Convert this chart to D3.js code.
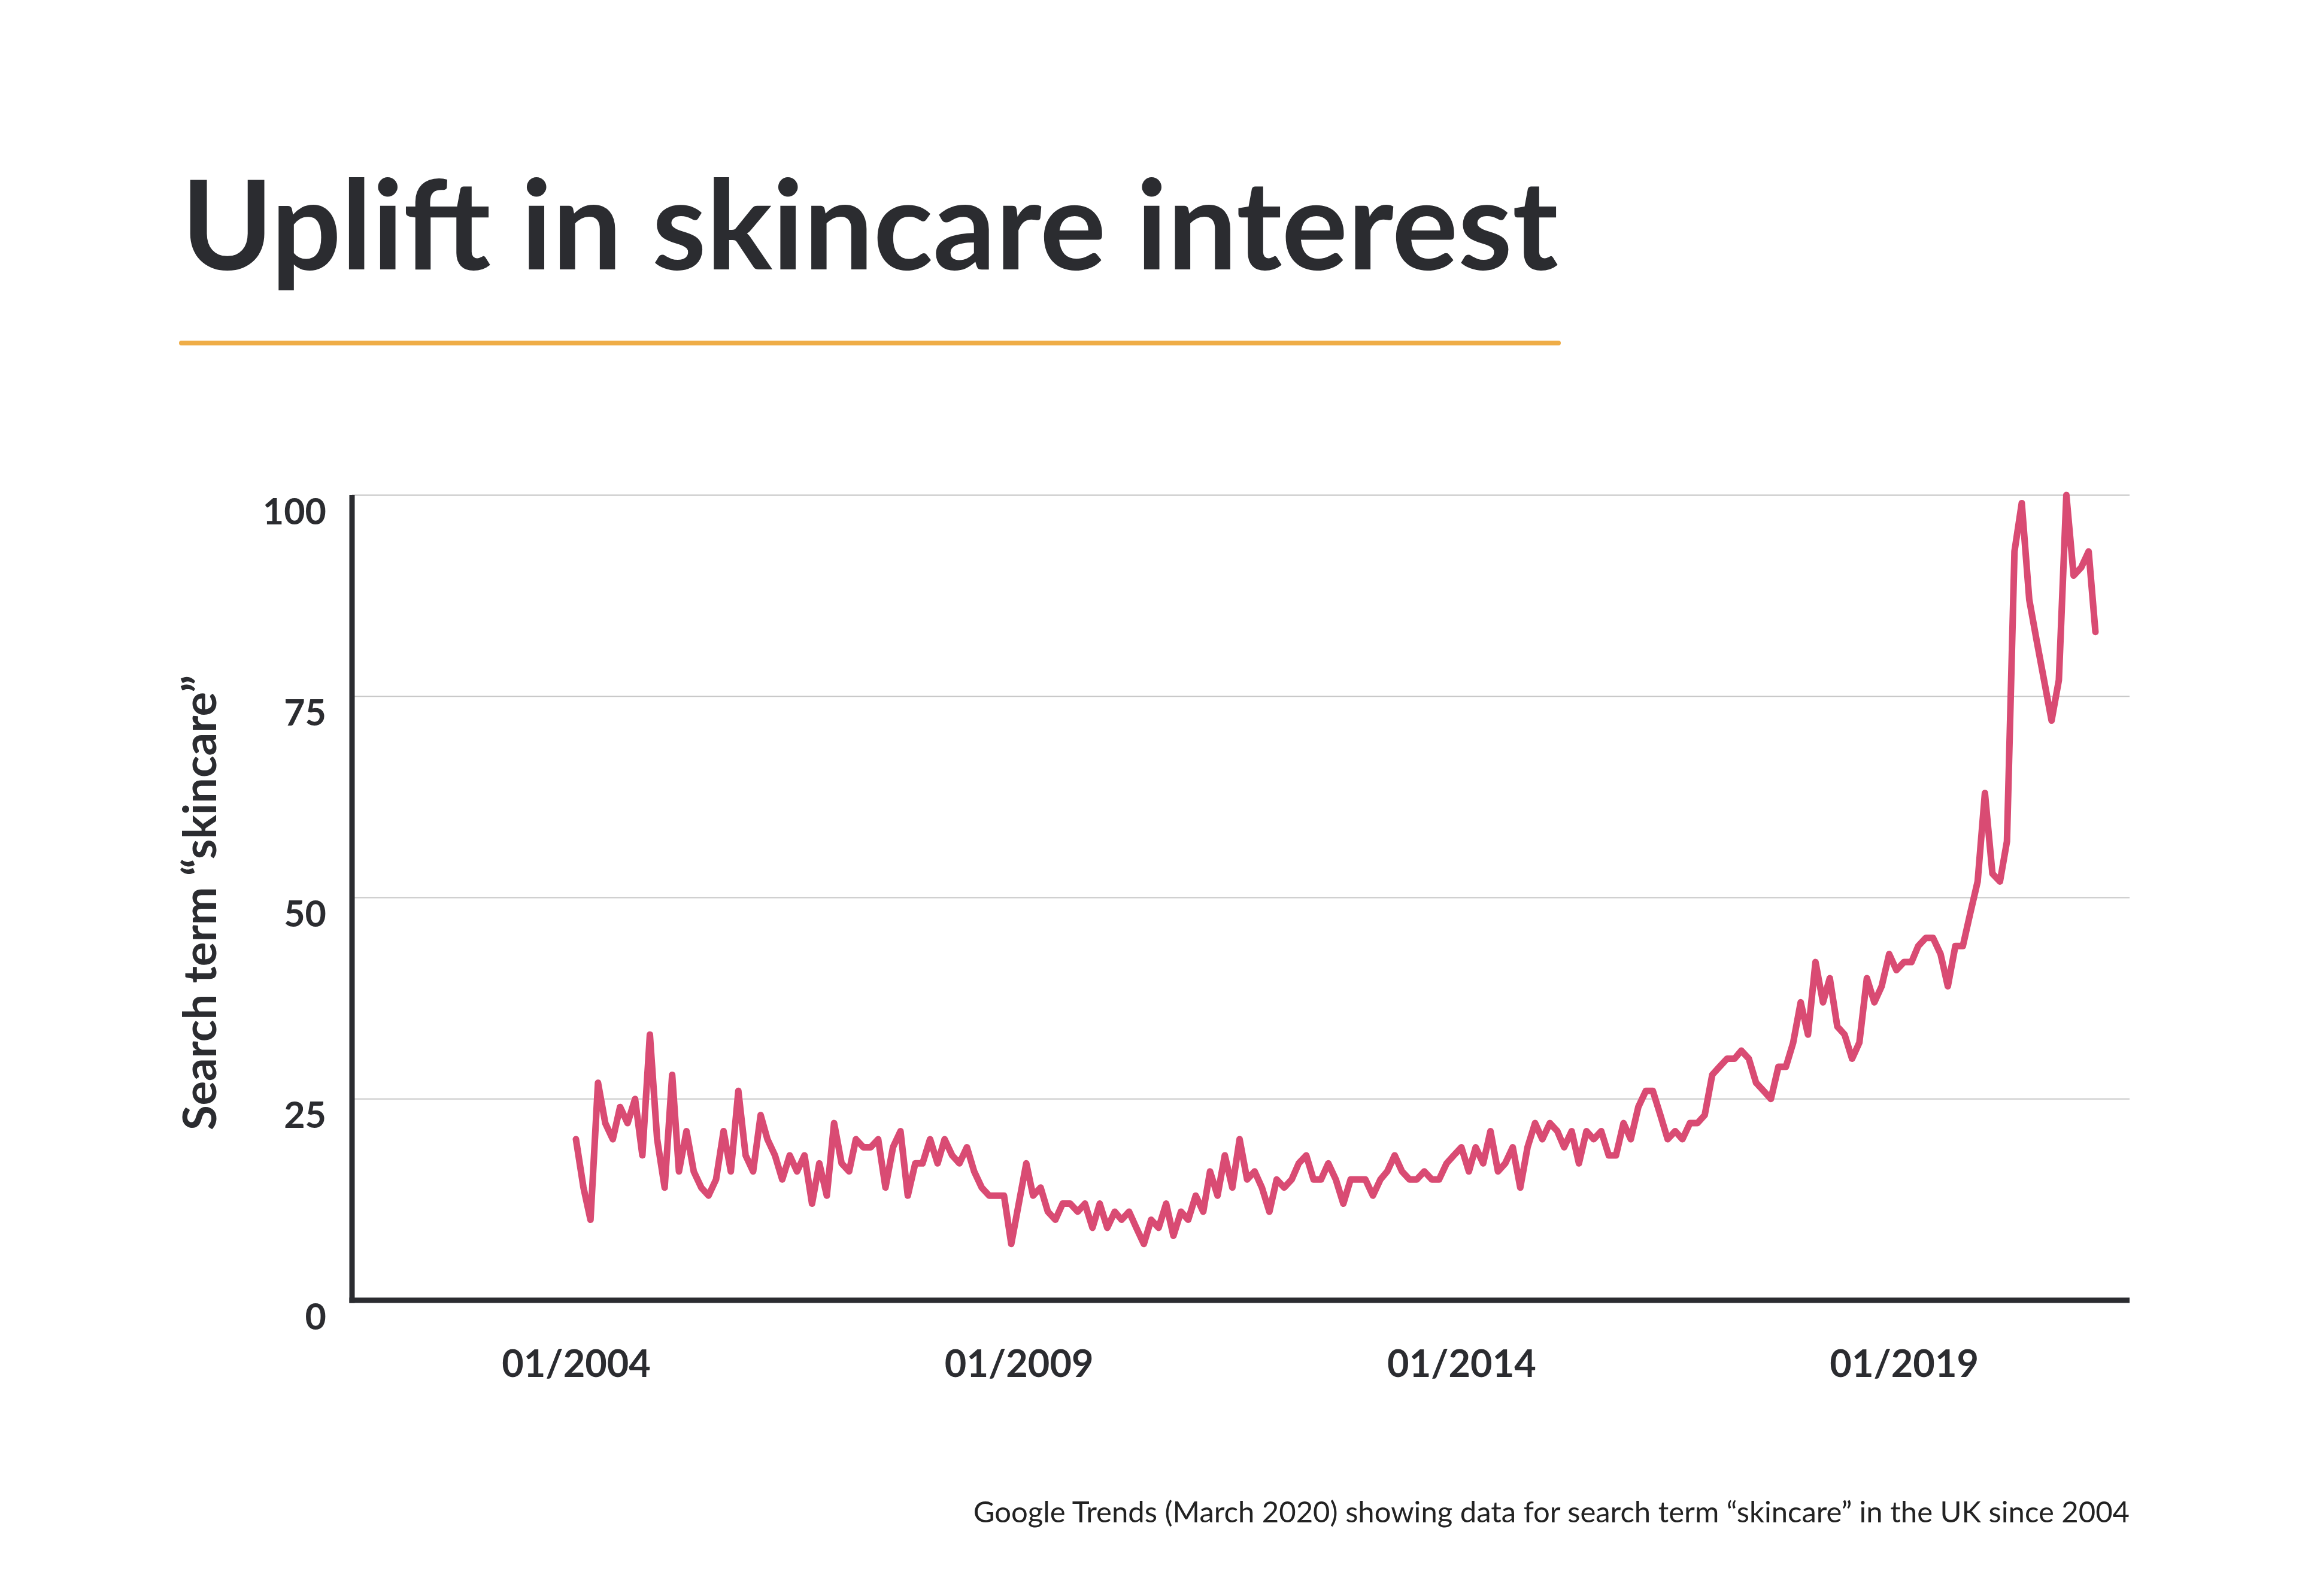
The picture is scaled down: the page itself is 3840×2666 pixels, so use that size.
<!DOCTYPE html>
<html>
<head>
<meta charset="utf-8">
<script src="https://cdn.jsdelivr.net/npm/d3@7"></script>
<style>
	body { margin: 0; background: #fff; }
	svg text { font-family: Lato, "Open Sans", sans-serif; }
</style>
</head>
<body>
<div id="chart"></div>
<script>
(function () {
	'use strict';

	// monthly Google Trends index for "skincare", UK, starting 01/2004
	var startMonth = "2004-01";
	var interest = [
		20, 14, 10, 27, 22, 20, 24, 22, 25, 18, 33, 20, 14, 28, 16, 21, 16, 14, 13, 15,
		21, 16, 26, 18, 16, 23, 20, 18, 15, 18, 16, 18, 12, 17, 13, 22, 17, 16, 20, 19,
		19, 20, 14, 19, 21, 13, 17, 17, 20, 17, 20, 18, 17, 19, 16, 14, 13, 13, 13, 7,
		12, 17, 13, 14, 11, 10, 12, 12, 11, 12, 9, 12, 9, 11, 10, 11, 9, 7, 10, 9,
		12, 8, 11, 10, 13, 11, 16, 13, 18, 14, 20, 15, 16, 14, 11, 15, 14, 15, 17, 18,
		15, 15, 17, 15, 12, 15, 15, 15, 13, 15, 16, 18, 16, 15, 15, 16, 15, 15, 17, 18,
		19, 16, 19, 17, 21, 16, 17, 19, 14, 19, 22, 20, 22, 21, 19, 21, 17, 21, 20, 21,
		18, 18, 22, 20, 24, 26, 26, 23, 20, 21, 20, 22, 22, 23, 28, 29, 30, 30, 31, 30,
		27, 26, 25, 29, 29, 32, 37, 33, 42, 37, 40, 34, 33, 30, 32, 40, 37, 39, 43, 41,
		42, 42, 44, 45, 45, 43, 39, 44, 44, 48, 52, 63, 53, 52, 57, 93, 99, 87, 82, 77,
		72, 77, 100, 90, 91, 93, 83
	];
	var yTicks = [0, 25, 50, 75, 100];
	var gridTicks = [25, 50, 75, 100];
	var xTickMonths = ["2004-01", "2009-01", "2014-01", "2019-01"];

	var titleText = "Uplift in skincare interest";
	var yTitle = "Search term \u201cskincare\u201d";
	var caption = "Google Trends (March 2020) showing data for search term \u201cskincare\u201d in the UK since 2004";

	var width = 3840, height = 2666;
	var ink = "#2b2c30";
	var plotLeft = 588, plotRight = 3557;

	var parseMonth = d3.timeParse("%Y-%m");
	var start = parseMonth(startMonth);
	var data = interest.map(function (v, i) {
		return { date: d3.timeMonth.offset(start, i), value: v };
	});

	var svg = d3.select("#chart")
		.append("svg")
		.attr("width", width)
		.attr("height", height);

	var x = d3.scaleTime()
		.domain(d3.extent(data, function (d) { return d.date; }))
		.range([962, 3500]);
	var y = d3.scaleLinear()
		.domain([0, 100])
		.range([2172, 827]);

	// title + underline, title sized to span the same width as the rule
	var title = svg.append("text")
		.attr("x", 303)
		.attr("y", 450)
		.attr("fill", ink)
		.style("font-size", "200px")
		.style("font-weight", 700)
		.text(titleText);
	var tw = title.node().getComputedTextLength();
	if (tw > 0) title.style("font-size", (200 * 2300 / tw) + "px");

	svg.append("line")
		.attr("x1", 303).attr("x2", 2603)
		.attr("y1", 573).attr("y2", 573)
		.attr("stroke", "#efad47")
		.attr("stroke-width", 8)
		.attr("stroke-linecap", "round");

	// gridlines
	svg.append("g")
		.selectAll("line")
		.data(gridTicks)
		.enter()
		.append("line")
		.attr("x1", plotLeft).attr("x2", plotRight)
		.attr("y1", y).attr("y2", y)
		.attr("stroke", "#c8c8c8")
		.attr("stroke-width", 2);

	// y axis labels
	var yAxis = svg.append("g")
		.attr("transform", "translate(" + plotLeft + ",0)")
		.call(d3.axisLeft(y).tickValues(yTicks).tickSize(0).tickPadding(43));
	yAxis.select(".domain").remove();
	yAxis.selectAll("text")
		.attr("dy", 48)
		.attr("fill", ink)
		.style("font-family", "Lato, sans-serif")
		.style("font-size", "61px")
		.style("font-weight", 700);

	// x axis labels
	var xAxis = svg.append("g")
		.attr("transform", "translate(0," + y(0) + ")")
		.call(d3.axisBottom(x)
			.tickValues(xTickMonths.map(parseMonth))
			.tickFormat(d3.timeFormat("%m/%Y"))
			.tickSize(0)
			.tickPadding(83));
	xAxis.select(".domain").remove();
	xAxis.selectAll("text")
		.attr("fill", ink)
		.style("font-family", "Lato, sans-serif")
		.style("font-size", "63px")
		.style("font-weight", 700);

	// the series
	var line = d3.line()
		.x(function (d) { return x(d.date); })
		.y(function (d) { return y(d.value); });

	svg.append("path")
		.datum(data)
		.attr("d", line)
		.attr("fill", "none")
		.attr("stroke", "#d94b73")
		.attr("stroke-width", 11)
		.attr("stroke-linejoin", "round")
		.attr("stroke-linecap", "round");

	// axis lines
	svg.append("line")
		.attr("x1", plotLeft).attr("x2", plotLeft)
		.attr("y1", y(100)).attr("y2", y(0) + 4.5)
		.attr("stroke", ink)
		.attr("stroke-width", 9);
	svg.append("line")
		.attr("x1", plotLeft - 4.5).attr("x2", plotRight)
		.attr("y1", y(0)).attr("y2", y(0))
		.attr("stroke", ink)
		.attr("stroke-width", 9);

	// y axis title
	svg.append("text")
		.attr("transform", "translate(361,1508) rotate(-90)")
		.attr("text-anchor", "middle")
		.attr("fill", ink)
		.style("font-size", "76px")
		.style("font-weight", 700)
		.text(yTitle);

	// source note
	svg.append("text")
		.attr("x", plotRight)
		.attr("y", 2543)
		.attr("text-anchor", "end")
		.attr("fill", "#222")
		.style("font-size", "49px")
		.text(caption);
}());
</script>
</body>
</html>
